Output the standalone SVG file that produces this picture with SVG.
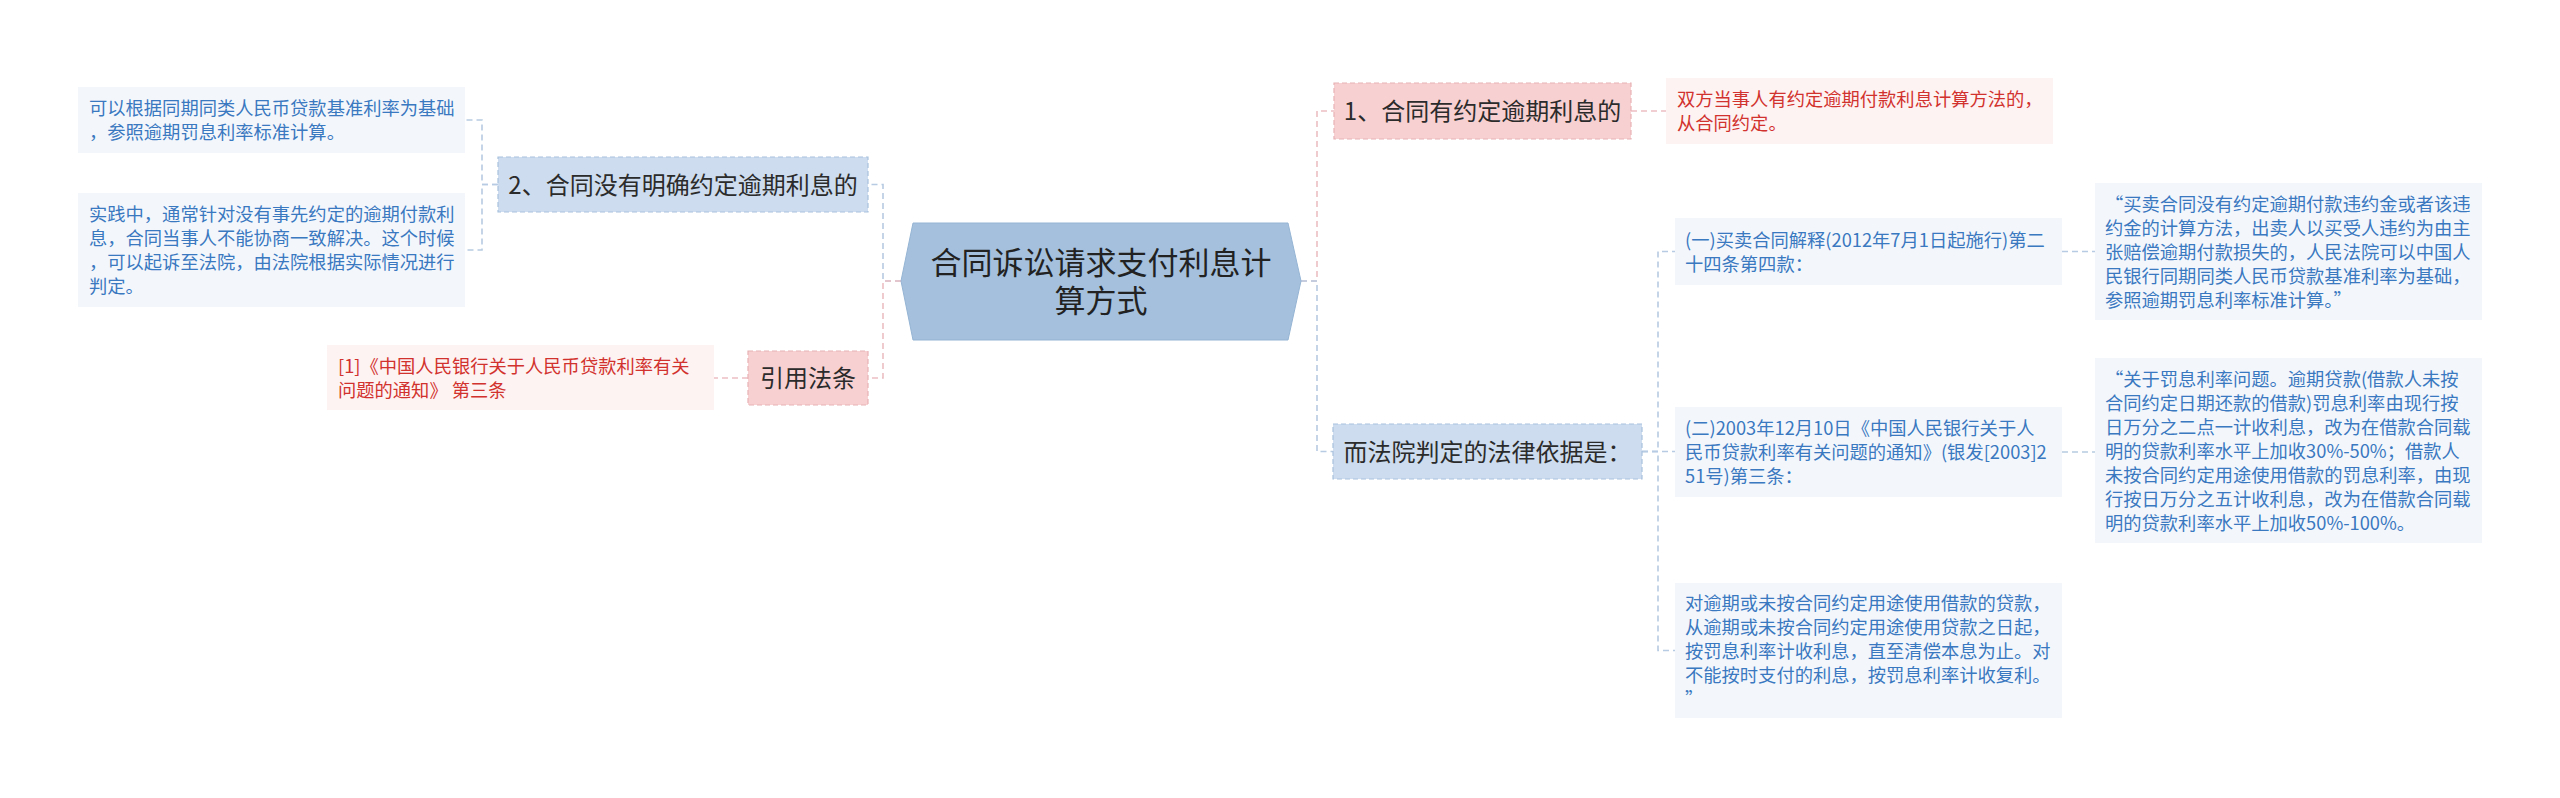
<svg xmlns="http://www.w3.org/2000/svg" width="2560" height="798" viewBox="0 0 2560 798">
<style>
text{font-family:"Noto Sans CJK SC","Noto Sans",sans-serif;}
.c{fill:none;stroke-width:1.6;stroke-dasharray:6 4;}
.cb{stroke:#b7cbe2;}
.cp{stroke:#ecbfc3;}
.mb{fill:#cddcee;stroke:#a9c2de;stroke-width:1.2;stroke-dasharray:5 3;}
.mp{fill:#f7d0d1;stroke:#e8b2b5;stroke-width:1.2;stroke-dasharray:5 3;}
.mt{font-size:24px;fill:#2b2b2b;text-anchor:middle;}
.lb{fill:#f3f7fc;}
.lp{fill:#fdf3f3;}
.tb{font-size:18.3px;fill:#3a78c0;}
.tp{font-size:18.3px;fill:#d2322d;}
</style>
<rect width="2560" height="798" fill="#ffffff"/>
<g id="connectors">
<path class="c cb" d="M901 281H883V184.5H868"/>
<path class="c cp" d="M901 281H883V378H868"/>
<path class="c cp" d="M1301 281H1317V111H1334"/>
<path class="c cb" d="M1301 281H1317V451.5H1333"/>
<path class="c cb" d="M498 184.5H482V120H465"/>
<path class="c cb" d="M498 184.5H482V250H465"/>
<path class="c cp" d="M748 378H714"/>
<path class="c cp" d="M1631 111H1666"/>
<path class="c cb" d="M1642 451.5H1658V251.5H1675"/>
<path class="c cb" d="M1642 451.5H1675"/>
<path class="c cb" d="M1642 451.5H1658V650.5H1675"/>
<path class="c cb" d="M2062 251.5H2095"/>
<path class="c cb" d="M2062 452H2095"/>
</g>
<g id="center">
<polygon points="901,281 913,223 1288,223 1301,281 1288,340 913,340" fill="#a4c0dc" stroke="#95b4d4" stroke-width="1"/>
<text x="1101" y="274" font-size="31" fill="#222" text-anchor="middle">合同诉讼请求支付利息计</text>
<text x="1101" y="312" font-size="31" fill="#222" text-anchor="middle">算方式</text>
</g>
<g id="n2">
<rect class="mb" x="498" y="157" width="370" height="55"/>
<text class="mt" x="683" y="193.5">2、合同没有明确约定逾期利息的</text>
</g>
<g id="n2a">
<rect class="lb" x="78" y="87" width="387" height="66"/>
<text class="tb" x="89" y="115">可以根据同期同类人民币贷款基准利率为基础</text>
<text class="tb" x="89" y="139">，参照逾期罚息利率标准计算。</text>
</g>
<g id="n2b">
<rect class="lb" x="78" y="193" width="387" height="114"/>
<text class="tb" x="89" y="221">实践中，通常针对没有事先约定的逾期付款利</text>
<text class="tb" x="89" y="245">息，合同当事人不能协商一致解决。这个时候</text>
<text class="tb" x="89" y="269">，可以起诉至法院，由法院根据实际情况进行</text>
<text class="tb" x="89" y="293">判定。</text>
</g>
<g id="n3">
<rect class="mp" x="748" y="351" width="120" height="54"/>
<text class="mt" x="808" y="387">引用法条</text>
</g>
<g id="n3a">
<rect class="lp" x="327" y="345" width="387" height="65"/>
<text class="tp" x="338" y="372.5">[1]《中国人民银行关于人民币贷款利率有关</text>
<text class="tp" x="338" y="396.5">问题的通知》 第三条</text>
</g>
<g id="n1">
<rect class="mp" x="1334" y="83" width="297" height="56"/>
<text class="mt" x="1482.5" y="120">1、合同有约定逾期利息的</text>
</g>
<g id="n1a">
<rect class="lp" x="1666" y="78" width="387" height="66"/>
<text class="tp" x="1677" y="106">双方当事人有约定逾期付款利息计算方法的，</text>
<text class="tp" x="1677" y="130">从合同约定。</text>
</g>
<g id="n4">
<rect class="mb" x="1333" y="424" width="309" height="55"/>
<text class="mt" x="1487.5" y="460.5">而法院判定的法律依据是：</text>
</g>
<g id="n4a">
<rect class="lb" x="1675" y="218" width="387" height="67"/>
<text class="tb" x="1685" y="246.5">(一)买卖合同解释(2012年7月1日起施行)第二</text>
<text class="tb" x="1685" y="270.5">十四条第四款：</text>
</g>
<g id="n4a1">
<rect class="lb" x="2095" y="183" width="387" height="137"/>
<text class="tb" x="2105" y="210.5">“买卖合同没有约定逾期付款违约金或者该违</text>
<text class="tb" x="2105" y="234.5">约金的计算方法，出卖人以买受人违约为由主</text>
<text class="tb" x="2105" y="258.5">张赔偿逾期付款损失的，人民法院可以中国人</text>
<text class="tb" x="2105" y="282.5">民银行同期同类人民币贷款基准利率为基础，</text>
<text class="tb" x="2105" y="306.5">参照逾期罚息利率标准计算。”</text>
</g>
<g id="n4b">
<rect class="lb" x="1675" y="407" width="387" height="90"/>
<text class="tb" x="1685" y="435">(二)2003年12月10日《中国人民银行关于人</text>
<text class="tb" x="1685" y="459">民币贷款利率有关问题的通知》(银发[2003]2</text>
<text class="tb" x="1685" y="483">51号)第三条：</text>
</g>
<g id="n4b1">
<rect class="lb" x="2095" y="358" width="387" height="185"/>
<text class="tb" x="2105" y="385.5">“关于罚息利率问题。逾期贷款(借款人未按</text>
<text class="tb" x="2105" y="409.5">合同约定日期还款的借款)罚息利率由现行按</text>
<text class="tb" x="2105" y="433.5">日万分之二点一计收利息，改为在借款合同载</text>
<text class="tb" x="2105" y="457.5">明的贷款利率水平上加收30%-50%；借款人</text>
<text class="tb" x="2105" y="481.5">未按合同约定用途使用借款的罚息利率，由现</text>
<text class="tb" x="2105" y="505.5">行按日万分之五计收利息，改为在借款合同载</text>
<text class="tb" x="2105" y="529.5">明的贷款利率水平上加收50%-100%。</text>
</g>
<g id="n4c">
<rect class="lb" x="1675" y="583" width="387" height="135"/>
<text class="tb" x="1685" y="609.5">对逾期或未按合同约定用途使用借款的贷款，</text>
<text class="tb" x="1685" y="633.5">从逾期或未按合同约定用途使用贷款之日起，</text>
<text class="tb" x="1685" y="657.5">按罚息利率计收利息，直至清偿本息为止。对</text>
<text class="tb" x="1685" y="681.5">不能按时支付的利息，按罚息利率计收复利。</text>
<text class="tb" x="1685" y="705.5">”</text>
</g>
</svg>
